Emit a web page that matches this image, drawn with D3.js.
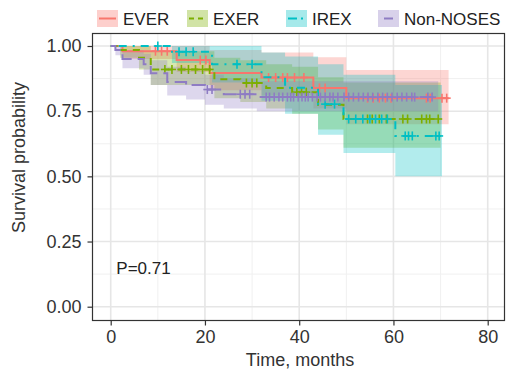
<!DOCTYPE html>
<html><head><meta charset="utf-8">
<script src="https://cdn.jsdelivr.net/npm/d3@7"></script>
<style>body{margin:0;background:#fff}svg{display:block}text{font-family:"Liberation Sans",Arial,sans-serif}</style>
</head><body>
<svg id="c" width="507" height="373"></svg>
<script>
const groups = ["EVER","EXER","IREX","Non-NOSES"];
const colors = ["#F8766D","#7CAE00","#00BFC4","#8E7CC3"];
const dashes = [null,"7,6","2,6,8,6","14,6"];

const timeEVER  = [0, 2.5, 14, 21, 32, 43, 50];
const survEVER  = [1, 0.98, 0.946, 0.896, 0.879, 0.839, 0.80];
const lowerEVER = [1, 0.95, 0.90, 0.83, 0.81, 0.76, 0.70];
const upperEVER = [1, 1, 1, 0.985, 0.975, 0.957, 0.908];
const endEVER = 71.7;
const censEVER = [9.5, 10.8, 12, 19, 20.2, 33.5, 35, 36.5, 37.5, 39, 41, 44.3, 45.5, 54.5, 55.7, 57, 58.3, 59.5, 67, 67.8, 70.3, 71.3];

const timeEXER  = [0, 2, 6, 8.5, 22, 27.5, 33, 38.5, 44, 49.4];
const survEXER  = [1, 0.985, 0.955, 0.91, 0.872, 0.858, 0.839, 0.823, 0.775, 0.72];
const lowerEXER = [1, 0.955, 0.91, 0.85, 0.80, 0.785, 0.76, 0.74, 0.68, 0.61];
const upperEXER = [1, 1, 1, 0.98, 0.955, 0.945, 0.93, 0.92, 0.88, 0.86];
const endEXER = 70;
const censEXER = [11.5, 13, 15, 16.5, 18, 19.5, 21, 28.8, 30, 31, 39.5, 40.5, 41.5, 54.5, 55.5, 57, 58.5, 62, 63, 66, 67, 67.7, 69.5];

const timeIREX  = [0, 13, 21.5, 32, 37, 44, 49.4, 60.4];
const survIREX  = [1, 0.978, 0.93, 0.88, 0.84, 0.777, 0.72, 0.655];
const lowerIREX = [1, 0.935, 0.86, 0.79, 0.74, 0.66, 0.59, 0.50];
const upperIREX = [1, 1, 1, 0.975, 0.96, 0.93, 0.89, 0.85];
const endIREX = 70.3;
const censIREX = [10, 14.5, 16, 17.5, 26.8, 30, 45.5, 47.5, 50.5, 52, 53.5, 55, 56.2, 57.5, 58.7, 62.5, 63.2, 64, 69, 69.7];

const timeNON  = [0, 1, 2.5, 7, 8.5, 12, 16, 20, 24, 31];
const survNON  = [1, 0.985, 0.95, 0.93, 0.895, 0.862, 0.85, 0.833, 0.815, 0.804];
const lowerNON = [1, 0.965, 0.915, 0.89, 0.85, 0.81, 0.795, 0.775, 0.76, 0.75];
const upperNON = [1, 1, 0.985, 0.97, 0.945, 0.92, 0.905, 0.89, 0.875, 0.865];
const endNON = 69.5;
const censNON = [20.5, 21.5, 27.5, 28.5, 29.5, 33, 33.7, 34.7, 35.7, 36.5, 37.5, 38.2, 38.8, 39.8, 40.6, 41.3, 41.9, 42.8, 43.8, 44.5, 45.5, 46.5, 47.2, 48.2, 49.5, 50.5, 51.5, 52.6, 53.6, 54.6, 55.6, 56.7, 57.7, 58.7, 59.7, 60.8, 61.8, 62.8, 63.9, 64.5, 67.3, 68.2];

const xTicks = [0, 20, 40, 60, 80];
const xMinor = [10, 30, 50, 70];
const yTicks = [0, 0.25, 0.5, 0.75, 1];
const yMinor = [0.125, 0.375, 0.625, 0.875];
const yTickLabels = ["0.00","0.25","0.50","0.75","1.00"];
const pLabel = "P=0.71";

const series = [
  {times:timeEVER, surv:survEVER, lo:lowerEVER, hi:upperEVER, end:endEVER, cens:censEVER},
  {times:timeEXER, surv:survEXER, lo:lowerEXER, hi:upperEXER, end:endEXER, cens:censEXER},
  {times:timeIREX, surv:survIREX, lo:lowerIREX, hi:upperIREX, end:endIREX, cens:censIREX},
  {times:timeNON,  surv:survNON,  lo:lowerNON,  hi:upperNON,  end:endNON,  cens:censNON}
];

const svg = d3.select("#c");
const x = d3.scaleLinear().domain([0,80]).range([110.7,487.7]);
const y = d3.scaleLinear().domain([0,1]).range([306.7,46]);
const P = {l:92.5, r:504.5, t:33.5, b:320.5};

// grid
const g = svg.append("g");
g.selectAll(".xm").data(xMinor).join("line").attr("x1",d=>x(d)).attr("x2",d=>x(d)).attr("y1",P.t).attr("y2",P.b).attr("stroke","#f0f0f0").attr("stroke-width",1);
g.selectAll(".ym").data(yMinor).join("line").attr("y1",d=>y(d)).attr("y2",d=>y(d)).attr("x1",P.l).attr("x2",P.r).attr("stroke","#f0f0f0").attr("stroke-width",1);
g.selectAll(".xM").data(xTicks).join("line").attr("x1",d=>x(d)).attr("x2",d=>x(d)).attr("y1",P.t).attr("y2",P.b).attr("stroke","#e6e6e6").attr("stroke-width",1.6);
g.selectAll(".yM").data(yTicks).join("line").attr("y1",d=>y(d)).attr("y2",d=>y(d)).attr("x1",P.l).attr("x2",P.r).attr("stroke","#e6e6e6").attr("stroke-width",1.6);

function pts(s){
  const a = s.times.map((t,i)=>({t, s:s.surv[i], lo:s.lo[i], hi:s.hi[i]}));
  const last = a[a.length-1];
  a.push({t:s.end, s:last.s, lo:last.lo, hi:last.hi});
  return a;
}
function survAt(s,t){ let i=0; while(i+1<s.times.length && s.times[i+1]<=t) i++; return s.surv[i]; }

const area = d3.area().curve(d3.curveStepAfter).x(d=>x(d.t)).y0(d=>y(d.lo)).y1(d=>y(d.hi));
const line = d3.line().curve(d3.curveStepAfter).x(d=>x(d.t)).y(d=>y(d.s));

series.forEach((s,i)=>{
  svg.append("path").attr("d",area(pts(s))).attr("fill",colors[i]).attr("fill-opacity",0.3);
});
series.forEach((s,i)=>{
  const p = svg.append("path").attr("d",line(pts(s))).attr("fill","none").attr("stroke",colors[i]).attr("stroke-width",2);
  if(dashes[i]) p.attr("stroke-dasharray",dashes[i]);
  const cg = svg.append("g").attr("stroke",colors[i]).attr("stroke-width",1.6);
  s.cens.forEach(t=>{
    const cx=x(t), cy=y(survAt(s,t));
    cg.append("line").attr("x1",cx).attr("x2",cx).attr("y1",cy-4.5).attr("y2",cy+4.5);
    cg.append("line").attr("x1",cx-4).attr("x2",cx+4).attr("y1",cy).attr("y2",cy);
  });
});

// panel border
svg.append("rect").attr("x",P.l).attr("y",P.t).attr("width",P.r-P.l).attr("height",P.b-P.t).attr("fill","none").attr("stroke","#333").attr("stroke-width",1.2);

// axes
const xa = svg.append("g").attr("transform",`translate(0,${P.b})`)
  .call(d3.axisBottom(x).tickValues(xTicks).tickSize(5).tickPadding(5).tickFormat(d3.format("d")));
xa.select(".domain").remove();
xa.selectAll("line").attr("stroke","#333").attr("stroke-width",1.2);
xa.selectAll("text").attr("font-size",18).attr("fill","#333").attr("font-family","Liberation Sans, Arial, sans-serif");
const ya = svg.append("g").attr("transform",`translate(${P.l},0)`)
  .call(d3.axisLeft(y).tickValues(yTicks).tickSize(5).tickPadding(6).tickFormat((d,i)=>yTickLabels[i]));
ya.select(".domain").remove();
ya.selectAll("line").attr("stroke","#333").attr("stroke-width",1.2);
ya.selectAll("text").attr("font-size",18).attr("fill","#333").attr("font-family","Liberation Sans, Arial, sans-serif");

svg.append("text").attr("x",300).attr("y",366).attr("text-anchor","middle").attr("font-size",18).attr("fill","#333").text("Time, months");
svg.append("text").attr("transform","translate(25,157.5) rotate(-90)").attr("text-anchor","middle").attr("font-size",18).attr("fill","#333").text("Survival probability");
svg.append("text").attr("x",x(1.2)).attr("y",y(0.15)+6).attr("font-size",17).attr("fill","#222").text(pLabel);

// legend
const keyX = [97,187,286,378];
const lg = svg.append("g");
groups.forEach((nm,i)=>{
  lg.append("rect").attr("x",keyX[i]).attr("y",10).attr("width",21).attr("height",17).attr("fill",colors[i]).attr("fill-opacity",0.35);
  const l = lg.append("line").attr("x1",keyX[i]+2).attr("x2",keyX[i]+19).attr("y1",18.5).attr("y2",18.5).attr("stroke",colors[i]).attr("stroke-width",2);
  if(i===1) l.attr("stroke-dasharray","5,4");
  if(i===2) l.attr("stroke-dasharray","9,4,2,10");
  if(i===3) l.attr("x1",keyX[i]+6).attr("x2",keyX[i]+15);
  lg.append("text").attr("x",keyX[i]+26).attr("y",25).attr("font-size",17).attr("fill","#222").text(nm);
});
</script>
</body></html>
